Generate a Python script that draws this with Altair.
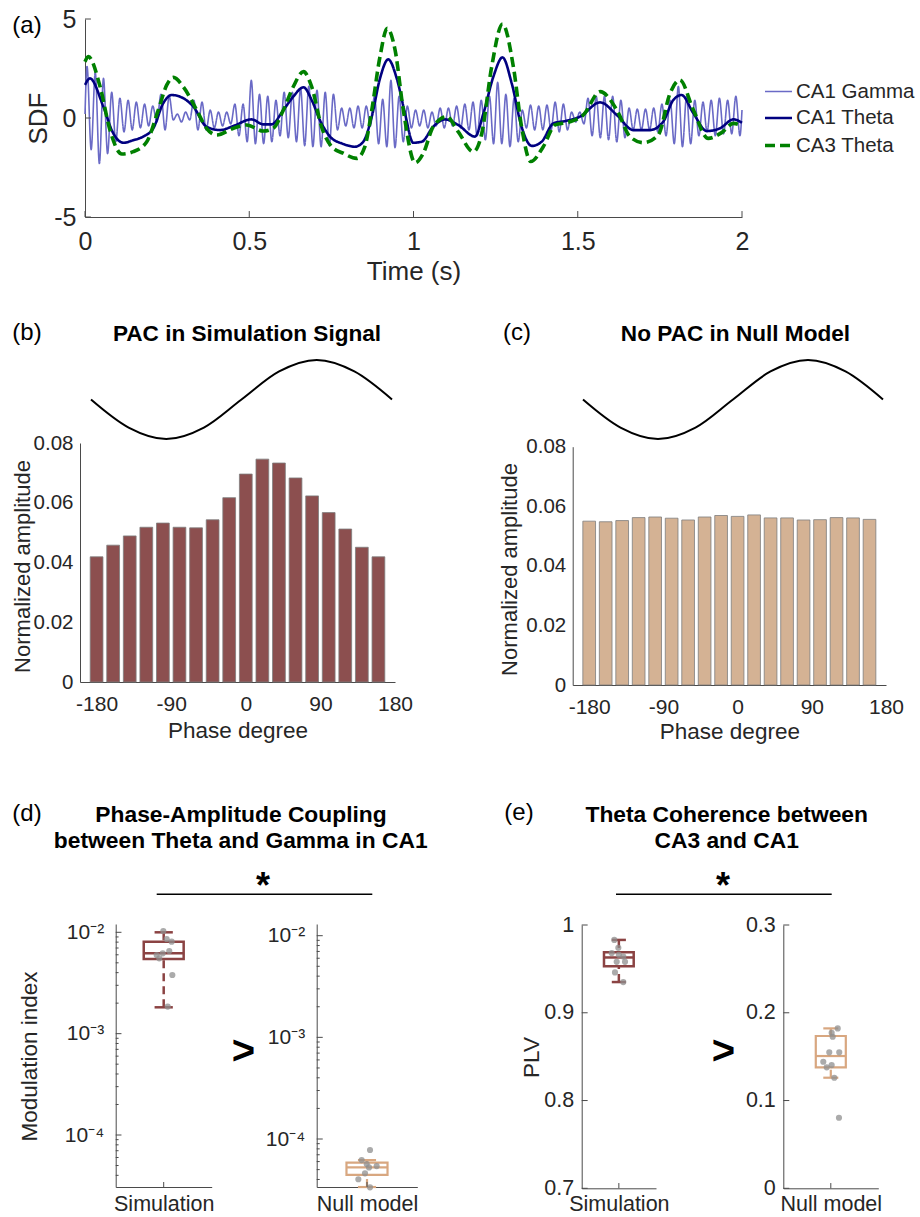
import math
import altair as alt
import pandas as pd

W, H = 920, 1217
FONT = "Liberation Sans"
INK = "#262626"
AXC = "#4a4a4a"

# ---------------- data: panel (a) ----------------
SERIES = ["CA1 Gamma", "CA1 Theta", "CA3 Theta"]
gamma_start, gamma_end = 0.2, 0.4
gamma_peaks = [2.6, 2.3, 2.0, 1.3, 1.0, 0.9, 0.8, 0.7, 0.6, 1.2,
               1.1, 0.2, 0.3, 0.9, 0.8, 0.4, 0.3, 0.3, 0.7, 0.7,
               1.9, 1.2, 1.1, 0.9, 1.3, 1.3, 1.5, 1.6, 1.4, 1.3,
               1.2, 0.5, 0.5, 0.6, 0.6, 1.1, 0.95, 1.9, 1.1, 0.6,
               0.4, 0.4, 0.3, 0.5, 0.5, 0.6, 0.7, 0.8, 0.9, 1.1,
               1.8, 1.2, 1.0, 0.4, 0.65, 0.6, 0.65, 0.8, 0.7, 0.3,
               0.3, 1.0, 1.1, 1.1, 1.1, 0.9, 0.5, 0.45, 0.45, 0.5,
               0.7, 0.9, 1.6, 1.1, 0.9, 0.8, 0.9, 1.0, 0.9, 1.1]
gamma_troughs = [-1.6, -2.3, -1.8, -1.2, -0.7, -0.6, -0.5, -0.4, -0.2, -0.6,
                 -0.1, -0.2, -0.1, -0.6, -0.6, -0.5, -0.4, -0.3, -0.9, -1.2,
                 -1.3, -1.3, -1.2, -0.9, -1.0, -1.2, -1.4, -1.45, -1.45, -1.4,
                 -0.6, -0.4, -0.5, -0.5, -0.4, -1.3, -1.45, -1.5, -1.2, -0.5,
                 -0.4, -0.5, -0.4, -0.5, -0.4, -0.5, -0.6, -0.9, -1.1, -1.3,
                 -1.3, -1.45, -1.2, -0.5, -0.6, -0.6, -0.6, -0.7, -0.6, -0.2,
                 -0.3, -0.9, -1.0, -1.1, -1.2, -1.0, -0.6, -0.6, -0.6, -0.7,
                 -0.9, -1.3, -1.45, -1.3, -0.9, -0.7, -0.9, -0.8, -0.8, -0.9]
ca1_t = [0, 0.015, 0.056, 0.086, 0.117, 0.147, 0.177, 0.208, 0.238, 0.264, 0.299,
         0.330, 0.370, 0.411, 0.452, 0.507, 0.543, 0.568, 0.604, 0.634, 0.665,
         0.690, 0.715, 0.746, 0.786, 0.822, 0.847, 0.873, 0.898, 0.923, 0.949,
         0.974, 0.999, 1.025, 1.060, 1.096, 1.136, 1.187, 1.213, 1.243, 1.271,
         1.299, 1.329, 1.360, 1.390, 1.426, 1.466, 1.507, 1.568, 1.619, 1.669,
         1.720, 1.760, 1.791, 1.816, 1.852, 1.893, 1.933, 1.974, 2.0]
ca1_v = [1.67, 2.0, 0.57, -0.77, -1.25, -1.12, -0.94, -0.52, 0.74, 1.16, 1.0,
         0.57, -0.44, -0.61, -0.40, -0.07, -0.32, -0.32, 0.4, 1.08, 1.55,
         0.91, -0.1, -0.94, -1.31, -1.45, -1.2, 0.07, 2.0, 2.96, 2.0,
         0.24, -1.25, -1.2, -0.44, -0.07, -0.35, -0.94, 0.24, 2.08, 3.06,
         1.75, -0.44, -1.41, -1.2, -0.27, -0.14, 0.07, 0.79, 0.15, -0.61,
         -0.61, -0.19, 0.91, 1.16, 0.24, -0.66, -0.52, -0.07, -0.24]
ca3_t = [0, 0.010, 0.046, 0.076, 0.112, 0.147, 0.188, 0.223, 0.249, 0.269,
         0.299, 0.340, 0.370, 0.401, 0.452, 0.492, 0.543, 0.573, 0.604, 0.634,
         0.665, 0.690, 0.720, 0.751, 0.786, 0.827, 0.852, 0.873, 0.898, 0.920,
         0.944, 0.969, 1.005, 1.030, 1.060, 1.101, 1.136, 1.182, 1.208, 1.238,
         1.271, 1.304, 1.329, 1.357, 1.395, 1.431, 1.476, 1.517, 1.568, 1.619,
         1.659, 1.700, 1.745, 1.781, 1.811, 1.852, 1.897, 1.938, 1.974, 2.0]
ca3_v = [2.84, 3.1, 1.58, -0.61, -1.82, -1.7, -1.2, 0.4, 1.67, 2.05,
         1.58, 0.4, -0.52, -0.86, -0.52, -0.35, -0.66, -0.52, 0.4, 1.58,
         2.34, 1.58, -0.44, -1.45, -1.78, -2.04, -1.45, 0.4, 3.1, 4.53,
         3.43, 0.4, -2.26, -1.78, -0.44, 0.07, -0.69, -1.70, -0.77, 2.59,
         4.75, 2.59, -0.44, -2.2, -1.45, -0.35, -0.19, 0.15, 1.33, 0.4,
         -0.94, -1.25, -0.86, 1.25, 1.92, 0.4, -1.03, -0.74, -0.27, -0.4]

# ---------------- data: panels (b), (c) ----------------
phase_bins = [-180, -160, -140, -120, -100, -80, -60, -40, -20,
              0, 20, 40, 60, 80, 100, 120, 140, 160]
pac_sim = [0.0419, 0.0458, 0.0489, 0.0518, 0.0532, 0.0518, 0.0516, 0.0543, 0.0617,
           0.0696, 0.0746, 0.0733, 0.0683, 0.0623, 0.0567, 0.0512, 0.0451, 0.0419]
pac_null = [0.0550, 0.0548, 0.0552, 0.0562, 0.0564, 0.0560, 0.0554, 0.0564, 0.0569,
            0.0566, 0.0571, 0.0561, 0.0561, 0.0554, 0.0555, 0.0562, 0.0561, 0.0556]
wave_phase = [-180, -135, -90, -45, 0, 45, 90, 135, 180]
wave_value = [0, -0.71, -1, -0.71, 0, 0.71, 1, 0.71, 0]

# ---------------- data: panels (d), (e) ----------------
mi_sim_box = {"lo": 1.82e-3, "q1": 5.46e-3, "med": 6.2e-3, "q3": 8.08e-3, "hi": 1.0e-2}
mi_sim_pts = [0.0103, 0.00859, 0.00808, 0.00654, 0.0062, 0.00597, 0.00554, 0.00379, 0.00185]
mi_sim_px = [0.496, 0.531, 0.583, 0.558, 0.49, 0.427, 0.454, 0.59, 0.542]
mi_null_box = {"lo": 3.37e-5, "q1": 4.43e-5, "med": 5.27e-5, "q3": 5.85e-5, "hi": 6.2e-5}
mi_null_pts = [7.8e-5, 6.2e-5, 5.67e-5, 5.42e-5, 5.26e-5, 4.6e-5, 4.02e-5, 3.35e-5]
mi_null_px = [0.53, 0.447, 0.497, 0.596, 0.52, 0.48, 0.414, 0.53]
plv_sim_box = {"lo": 0.935, "q1": 0.953, "med": 0.963, "q3": 0.969, "hi": 0.983}
plv_sim_pts = [0.983, 0.974, 0.968, 0.964, 0.958, 0.958, 0.946, 0.935, 0.966]
plv_sim_px = [0.439, 0.493, 0.404, 0.56, 0.583, 0.471, 0.448, 0.56, 0.5]
plv_null_box = {"lo": 0.126, "q1": 0.1378, "med": 0.1507, "q3": 0.1735, "hi": 0.1822}
plv_null_pts = [0.1822, 0.1772, 0.1727, 0.1549, 0.1549, 0.1442, 0.1404, 0.1378, 0.126, 0.0804]
plv_null_px = [0.573, 0.509, 0.52, 0.484, 0.589, 0.421, 0.509, 0.457, 0.537, 0.586]


# ---------------- helpers ----------------
def lin(d, r):
    return alt.Scale(type="linear", domain=d, range=r, nice=False, zero=False)


def logsc(d, r):
    return alt.Scale(type="log", domain=d, range=r, nice=False)


def yaxis(xpos, values, expr, lsize, pad, title=None, tcx=0, tcy=0, tsize=20):
    kw = dict(orient="left", offset=-xpos, values=values, ticks=False, grid=False,
              domainColor=AXC, domainWidth=1, labelFont=FONT, labelFontSize=lsize,
              labelColor=INK, labelPadding=pad, labelFlush=False, labelOverlap=False,
              labelExpr=expr)
    if title:
        kw.update(title=title, titleFont=FONT, titleFontSize=tsize, titleFontWeight="normal",
                  titleColor=INK, titleX=tcx - xpos, titleY=tcy, titleAngle=270,
                  titleAlign="center", titleBaseline="middle")
    else:
        kw["title"] = None
    return alt.Axis(**kw)


def xaxis(ypos, values, expr, lsize, pad, title=None, tcy=0, tsize=20):
    kw = dict(orient="bottom", offset=ypos - H, values=values, ticks=False, grid=False,
              domainColor=AXC, domainWidth=1, labelFont=FONT, labelFontSize=lsize,
              labelColor=INK, labelPadding=pad, labelFlush=False, labelOverlap=False,
              labelExpr=expr)
    if title:
        kw.update(title=title, titleFont=FONT, titleFontSize=tsize, titleFontWeight="normal",
                  titleColor=INK, titleY=tcy - ypos, titleBaseline="middle")
    else:
        kw["title"] = None
    return alt.Axis(**kw)


def txt(s, x, y, size, bold=False, baseline="middle", align="center"):
    return alt.Chart(pd.DataFrame({"s": [s]})).mark_text(
        font=FONT, fontSize=size, fontWeight="bold" if bold else "normal",
        color="black", align=align, baseline=baseline
    ).encode(x=alt.value(x), y=alt.value(y), text="s:N")


def hline(x1, x2, y):
    return alt.Chart(pd.DataFrame({"d": [0]})).mark_rule(color="black", strokeWidth=1.5).encode(
        x=alt.value(x1), x2=alt.value(x2), y=alt.value(y))


def yticks(vals, sx, sy, length):
    return alt.Chart(pd.DataFrame({"v": vals})).mark_rule(color=AXC, strokeWidth=1).encode(
        x=alt.XDatum(sx.domain[0], type="quantitative", scale=sx, axis=None),
        x2=alt.X2Datum(sx.domain[0] + length),
        y=alt.Y("v:Q", scale=sy, axis=None))


def xticks(vals, sx, sy, y0, y1):
    return alt.Chart(pd.DataFrame({"v": vals})).mark_rule(color=AXC, strokeWidth=1).encode(
        x=alt.X("v:Q", scale=sx, axis=None),
        y=alt.YDatum(y0, type="quantitative", scale=sy, axis=None),
        y2=alt.Y2Datum(y1))


def box_layers(stats, pts, px, sx, sy, color, sw, hw, cw, ax_x, ax_y):
    s = pd.DataFrame([stats])
    L = []
    for a, b in (("hi", "q3"), ("lo", "q1")):
        L.append(alt.Chart(s).mark_rule(color=color, strokeWidth=sw, strokeDash=[8, 5]).encode(
            x=alt.XDatum(0.5, type="quantitative", scale=sx, axis=None),
            y=alt.Y(f"{a}:Q", scale=sy, axis=None), y2=f"{b}:Q"))
        L.append(alt.Chart(s).mark_rule(color=color, strokeWidth=sw).encode(
            x=alt.XDatum(0.5 - cw, type="quantitative", scale=sx, axis=None),
            x2=alt.X2Datum(0.5 + cw),
            y=alt.Y(f"{a}:Q", scale=sy, axis=None)))
    L.append(alt.Chart(s).mark_rect(fill="white", fillOpacity=0, stroke=color, strokeWidth=sw).encode(
        x=alt.XDatum(0.5 - hw, type="quantitative", scale=sx, axis=None),
        x2=alt.X2Datum(0.5 + hw),
        y=alt.Y("q1:Q", scale=sy, axis=None), y2="q3:Q"))
    L.append(alt.Chart(s).mark_rule(color=color, strokeWidth=sw).encode(
        x=alt.XDatum(0.5 - hw, type="quantitative", scale=sx, axis=None),
        x2=alt.X2Datum(0.5 + hw),
        y=alt.Y("med:Q", scale=sy, axis=None)))
    dfp = pd.DataFrame({"px": px, "v": pts})
    L.append(alt.Chart(dfp).mark_circle(size=38, color="#8f8f8f", opacity=0.75).encode(
        x=alt.X("px:Q", scale=sx, axis=ax_x),
        y=alt.Y("v:Q", scale=sy, axis=ax_y)))
    return L


layers = []

# ---------------- panel (a) ----------------
g_t, g_v = [0.0], [gamma_start]
for k in range(len(gamma_peaks)):
    g_t += [0.00625 + 0.025 * k, 0.01875 + 0.025 * k]
    g_v += [gamma_peaks[k], gamma_troughs[k]]
g_t.append(2.0)
g_v.append(gamma_end)

df_a = pd.concat([
    pd.DataFrame({"series": SERIES[0], "t": g_t, "v": g_v}),
    pd.DataFrame({"series": SERIES[1], "t": ca1_t, "v": ca1_v}),
    pd.DataFrame({"series": SERIES[2], "t": ca3_t, "v": ca3_v}),
], ignore_index=True)

sx_a = lin([0, 2], [85, 742])
sy_a = lin([-5, 5], [217, 19])
leg = alt.Legend(orient="none", legendX=763, legendY=77, title=None, symbolType="stroke",
                 symbolSize=729, labelFont=FONT, labelFontSize=20.5, labelColor=INK,
                 labelOffset=2, rowPadding=1, padding=0, labelLimit=200)
layers.append(alt.Chart(df_a).mark_line(interpolate="monotone").encode(
    x=alt.X("t:Q", scale=sx_a,
            axis=xaxis(217, [0, 0.5, 1, 1.5, 2], "toString(datum.value)", 25, 12,
                       "Time (s)", 271.7, 26)),
    y=alt.Y("v:Q", scale=sy_a,
            axis=yaxis(85, [-5, 0, 5], "toString(datum.value)", 25, 9, "SDF", 38, 118, 26)),
    color=alt.Color("series:N", scale=alt.Scale(domain=SERIES, range=["#6a6ac6", "#000080", "#008000"]), legend=leg),
    strokeDash=alt.StrokeDash("series:N", scale=alt.Scale(domain=SERIES, range=[[1, 0], [1, 0], [10, 5]]), legend=leg),
    strokeWidth=alt.StrokeWidth("series:N", scale=alt.Scale(domain=SERIES, range=[1.6, 3.6, 3.6]), legend=leg),
))
layers.append(xticks([0, 0.5, 1, 1.5, 2], sx_a, sy_a, -5, -4.7))
layers.append(yticks([-5, 0, 5], sx_a, sy_a, 0.018))

# ---------------- panels (b), (c) ----------------
def pac_panel(vals, fill, x0, x1, y0, y1, wx0, wx1, tcx, tcy, xty):
    out = []
    sx = lin([-200, 180], [x0, x1])
    sy = lin([0, 0.08], [y0, y1])
    df = pd.DataFrame({"phase": phase_bins, "amp": vals})
    out.append(alt.Chart(df).transform_calculate(
        xl="datum.phase - 7.7", xr="datum.phase + 7.7"
    ).mark_rect(fill=fill, stroke="#7d7d7d", strokeWidth=0.8).encode(
        x=alt.X("xl:Q", scale=sx,
                axis=xaxis(y0, [-180, -90, 0, 90, 180], "toString(datum.value)", 21, 11,
                           "Phase degree", xty, 22.5)),
        x2="xr:Q",
        y=alt.Y("amp:Q", scale=sy,
                axis=yaxis(x0, [0, 0.02, 0.04, 0.06, 0.08], "toString(datum.value)", 20.5, 7,
                           "Normalized amplitude", tcx, tcy, 22)),
        y2=alt.Y2Datum(0),
    ))
    dw = pd.DataFrame({"p": wave_phase, "w": wave_value})
    out.append(alt.Chart(dw).mark_line(color="black", strokeWidth=2, interpolate="monotone").encode(
        x=alt.X("p:Q", scale=lin([-180, 180], [wx0, wx1]), axis=None),
        y=alt.Y("w:Q", scale=lin([-1, 1], [439, 360]), axis=None),
    ))
    return out


layers += pac_panel(pac_sim, "#8c4f4f", 80, 395, 682, 443, 91, 392, 22, 566, 730)
layers += pac_panel(pac_null, "#d4b294", 572.7, 886, 685, 446.7, 583, 883, 509, 569, 731.7)

# ---------------- panels (d), (e) ----------------
def log_minor(lo, hi):
    out = []
    for k in range(-6, 0):
        for m in range(2, 10):
            v = m * 10.0 ** k
            if lo < v < hi:
                out.append(v)
    return out


sup = "round(log(datum.value)/LN10) == -2 ? '10⁻²' : round(log(datum.value)/LN10) == -3 ? '10⁻³' : '10⁻⁴'"
SIMC, NULLC = "#8b4343", "#d8a780"

# d-left
dl_dom = [10 ** -4.513, 10 ** -1.918]
sx = lin([0, 1], [115.7, 211.7]); sy = logsc(dl_dom, [1187, 924])
layers += box_layers(mi_sim_box, mi_sim_pts, mi_sim_px, sx, sy, SIMC, 2.5, 0.208, 0.095,
                     xaxis(1187, [0.5], "'Simulation'", 21.5, 6),
                     yaxis(115.7, [1e-4, 1e-3, 1e-2], sup, 21, 12, "Modulation index", 29.5, 1056, 22.5))
layers.append(yticks([1e-4, 1e-3, 1e-2], sx, sy, 0.06))
layers.append(yticks(log_minor(*dl_dom), sx, sy, 0.03))
layers.append(xticks([0.5], sx, sy, dl_dom[0], dl_dom[0] * 10 ** (5 / 101.5)))

# d-right
dr_dom = [10 ** -4.472, 10 ** -1.885]
sx = lin([0, 1], [316.7, 417.3]); sy = logsc(dr_dom, [1187, 924])
layers += box_layers(mi_null_box, mi_null_pts, mi_null_px, sx, sy, NULLC, 2.2, 0.204, 0.09,
                     xaxis(1187, [0.5], "'Null model'", 21.5, 6),
                     yaxis(316.7, [1e-4, 1e-3, 1e-2], sup, 21, 12))
layers.append(yticks([1e-4, 1e-3, 1e-2], sx, sy, 0.06))
layers.append(yticks(log_minor(*dr_dom), sx, sy, 0.03))
layers.append(xticks([0.5], sx, sy, dr_dom[0], dr_dom[0] * 10 ** (5 / 101.5)))

# e-left
sx = lin([0, 1], [581.7, 656]); sy = lin([0.7, 1.0], [1188.3, 925])
layers += box_layers(plv_sim_box, plv_sim_pts, plv_sim_px, sx, sy, SIMC, 2.5, 0.2, 0.095,
                     xaxis(1188.3, [0.5], "'Simulation'", 21.5, 5),
                     yaxis(581.7, [0.7, 0.8, 0.9, 1.0], "toString(datum.value)", 21.5, 8, "PLV", 531, 1057, 22.5))
layers.append(yticks([0.7, 0.8, 0.9, 1.0], sx, sy, 0.08))
layers.append(xticks([0.5], sx, sy, 0.7, 0.706))

# e-right
sx = lin([0, 1], [783.3, 878.3]); sy = lin([0, 0.3], [1188.3, 925])
layers += box_layers(plv_null_box, plv_null_pts, plv_null_px, sx, sy, NULLC, 2.2, 0.158, 0.079,
                     xaxis(1188.3, [0.5], "'Null model'", 21.5, 5),
                     yaxis(783.3, [0, 0.1, 0.2, 0.3], "toString(datum.value)", 21.5, 8))
layers.append(yticks([0, 0.1, 0.2, 0.3], sx, sy, 0.063))
layers.append(xticks([0.5], sx, sy, 0, 0.006))

# ---------------- annotations ----------------
layers += [
    txt("(a)", 27, 26, 24),
    txt("(b)", 27, 333, 24),
    txt("(c)", 517, 333, 24),
    txt("(d)", 27, 814, 24),
    txt("(e)", 519, 813, 24),
    txt("PAC in Simulation Signal", 247, 334, 22.6, bold=True),
    txt("No PAC in Null Model", 735.5, 334, 22.6, bold=True),
    txt("Phase-Amplitude Coupling", 241, 815, 22.8, bold=True),
    txt("between Theta and Gamma in CA1", 240.7, 841, 22.8, bold=True),
    txt("Theta Coherence between", 726.7, 815, 22.8, bold=True),
    txt("CA3 and CA1", 726.7, 841, 22.8, bold=True),
    hline(156.7, 372.3, 894.3),
    hline(616, 831.7, 894.3),
    txt("*", 263, 898, 36, bold=True, baseline="alphabetic"),
    txt("*", 723, 898, 36, bold=True, baseline="alphabetic"),
    txt(">", 243.3, 1064, 40, bold=True, baseline="alphabetic"),
    txt(">", 723.3, 1064, 40, bold=True, baseline="alphabetic"),
]

chart = alt.layer(*layers).resolve_scale(
    x="independent", y="independent"
).properties(
    width=W, height=H, padding=0, background="white",
    autosize=alt.AutoSizeParams(type="none"),
).configure_view(stroke=None)

chart.save("out.html", embed_options={"renderer": "svg", "actions": False})
